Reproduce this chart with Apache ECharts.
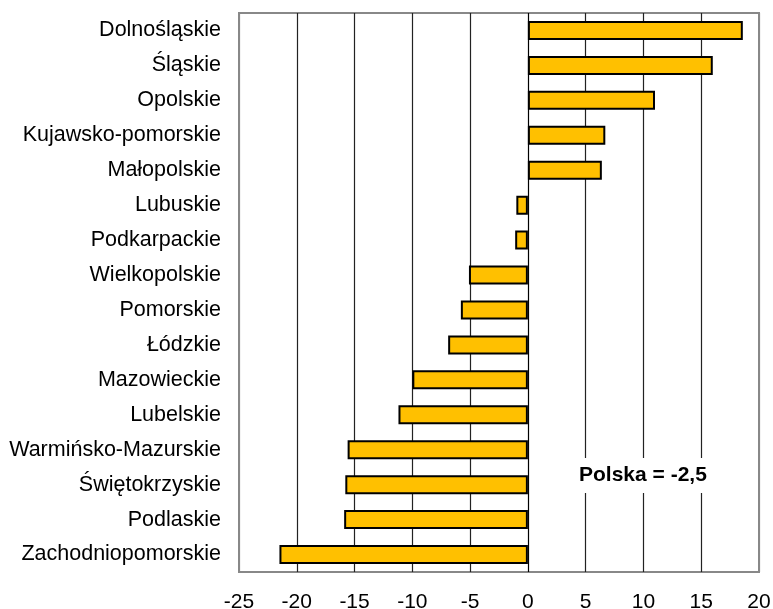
<!DOCTYPE html>
<html>
<head>
<meta charset="utf-8">
<script src="https://cdn.jsdelivr.net/npm/echarts@6/dist/echarts.min.js"></script>
<style>
html,body{margin:0;padding:0;background:#fff;}
#c{width:773px;height:609px;}
</style>
</head>
<body>
<div id="c"></div>
<script>
var categories = ['Dolnośląskie','Śląskie','Opolskie','Kujawsko-pomorskie','Małopolskie','Lubuskie','Podkarpackie','Wielkopolskie','Pomorskie','Łódzkie','Mazowieckie','Lubelskie','Warmińsko-Mazurskie','Świętokrzyskie','Podlaskie','Zachodniopomorskie'];
var values = [18.6, 16.0, 11.0, 6.7, 6.4, -1.0, -1.1, -5.1, -5.8, -6.9, -10.0, -11.2, -15.6, -15.8, -15.9, -21.5];
var annotation = 'Polska = -2,5';

var chart = echarts.init(document.getElementById('c'), null, {renderer: 'canvas'});
var font = '"Liberation Sans", Arial, sans-serif';
chart.setOption({
  animation: false,
  backgroundColor: '#fff',
  grid: {left: 239, right: 14, top: 13, bottom: 37, show: true, borderColor: '#888', borderWidth: 2, backgroundColor: 'transparent', containLabel: false, outerBoundsMode: 'none'},
  xAxis: {
    type: 'value', min: -25, max: 20, interval: 5,
    axisLine: {show: false}, axisTick: {show: false},
    axisLabel: {fontFamily: font, fontSize: 21, color: '#000', margin: 20},
    splitLine: {show: true, lineStyle: {color: ['#888','#222','#222','#222','#222','#000','#222','#222','#222','#888'], width: 1.2}}
  },
  yAxis: {
    type: 'category', data: categories, inverse: true,
    axisLine: {show: false}, axisTick: {show: false},
    axisLabel: {fontFamily: font, fontSize: 21.5, color: '#000', margin: 18},
    splitLine: {show: false}
  },
  series: [{
    type: 'bar', data: values, barWidth: 19,
    itemStyle: {color: '#FFC000', borderColor: '#000', borderWidth: 2}
  }],
  graphic: [{
    type: 'text', left: 574, top: 458, z: 100,
    style: {text: annotation, font: 'bold 21px ' + font, fill: '#000', backgroundColor: '#fff', padding: [7, 5, 7, 5]}
  }]
});
</script>
</body>
</html>
